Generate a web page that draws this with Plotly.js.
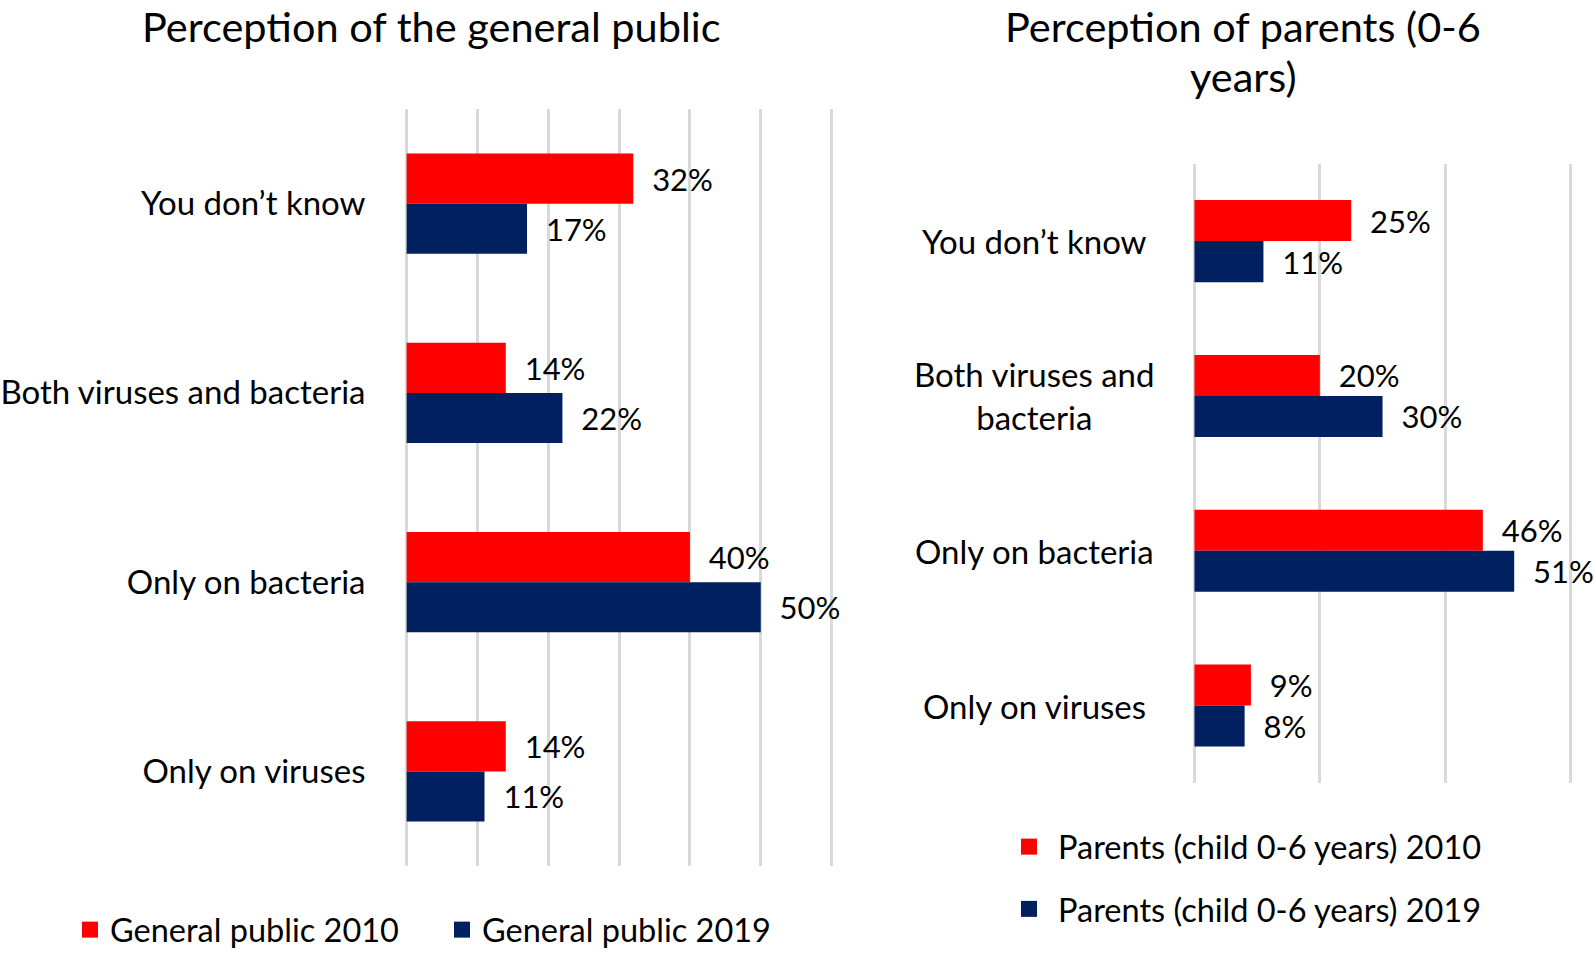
<!DOCTYPE html>
<html><head><meta charset="utf-8">
<script src="https://cdn.plot.ly/plotly-3.0.1.min.js"></script>
<style>html,body{margin:0;padding:0;background:#fff}</style>
</head><body><div id="chart" style="width:1594px;height:953px"></div>
<script>
const categories = ["You don’t know", "Both viruses and bacteria", "Only on bacteria", "Only on viruses"];
const parentCategoryLabels = ["You don’t know", "Both viruses and<br>bacteria", "Only on bacteria", "Only on viruses"];
const public2010 = [32, 14, 40, 14];
const public2019 = [17, 22, 50, 11];
const parents2010 = [25, 20, 46, 9];
const parents2019 = [11, 30, 51, 8];
const seriesNames = ["General public 2010", "General public 2019", "Parents (child 0-6 years) 2010", "Parents (child 0-6 years) 2019"];
const leftTitle = "Perception of the general public";
const rightTitleLines = ["Perception of parents (0-6", "years)"];

const RED = "#FF0000", NAVY = "#002060";
const FONT = "Lato, 'Noto Sans', sans-serif";
const CAT = 33, VAL = 31, LEG = 32.5, TTL = 41.5;

function bar(x, color, xa, ya) {
  return {
    type: "bar", orientation: "h", x: x, y: categories,
    xaxis: xa, yaxis: ya,
    marker: {color: color},
    texttemplate: "\u00a0\u00a0%{x}%", textposition: "outside",
    cliponaxis: false, constraintext: "none",
    textfont: {family: FONT, size: VAL, color: "#000"},
    showlegend: false, hoverinfo: "skip"
  };
}
function legendItem(name, color, lg, grp) {
  return {
    type: "scatter", mode: "markers", x: [null], y: [null], name: name,
    xaxis: lg === "legend" ? "x" : "x2", yaxis: lg === "legend" ? "y" : "y2",
    marker: {symbol: "square", size: 18, color: color},
    legend: lg, legendgroup: grp, hoverinfo: "skip"
  };
}

const data = [
  bar(public2010, RED, "x", "y"),
  bar(public2019, NAVY, "x", "y"),
  bar(parents2010, RED, "x2", "y2"),
  bar(parents2019, NAVY, "x2", "y2"),
  legendItem(seriesNames[0], RED, "legend", "a"),
  legendItem(seriesNames[1], NAVY, "legend", "b"),
  legendItem(seriesNames[2], RED, "legend2", "c"),
  legendItem(seriesNames[3], NAVY, "legend2", "d")
];

const grid = {showgrid: true, gridcolor: "#d9d9d9", gridwidth: 3, zeroline: false, showline: false, showticklabels: false, ticks: "", fixedrange: true};
const annotations = [
  {text: leftTitle, xref: "paper", yref: "paper", x: 431.5/1594, y: 1, xanchor: "center", yanchor: "top", borderpad: 0, showarrow: false, font: {family: FONT, size: TTL, color: "#000"}},
  {text: rightTitleLines[0], xref: "paper", yref: "paper", x: 1242.8/1594, y: 1, xanchor: "center", yanchor: "top", borderpad: 0, showarrow: false, font: {family: FONT, size: TTL, color: "#000"}},
  {text: rightTitleLines[1], xref: "paper", yref: "paper", x: 1242.8/1594, y: 1 - 76/953, xanchor: "center", yanchor: "middle", showarrow: false, font: {family: FONT, size: TTL, color: "#000"}}
];
categories.forEach((c, i) => annotations.push({
  text: parentCategoryLabels[i], xref: "paper", yref: "y2", x: 1034/1594, y: c,
  xanchor: "center", yanchor: "middle", align: "center", showarrow: false,
  font: {family: FONT, size: CAT, color: "#000"}
}));

const layout = {
  width: 1594, height: 953,
  margin: {l: 0, r: 0, t: 0, b: 0, autoexpand: false},
  paper_bgcolor: "#fff", plot_bgcolor: "#fff",
  font: {family: FONT, color: "#000"},
  barmode: "group", bargap: 0.47, bargroupgap: 0,
  xaxis: Object.assign({domain: [404.5/1594, 833.7/1594], range: [-0.3, 60.3], dtick: 10, tick0: 0, anchor: "y"}, grid),
  yaxis: {domain: [1 - 866/953, 1 - 109/953], anchor: "x", type: "category", categoryorder: "array", categoryarray: categories,
          autorange: "reversed", showgrid: false, zeroline: false, showline: false, ticks: "",
          ticklabelstandoff: 38, tickfont: {family: FONT, size: CAT, color: "#000"}, fixedrange: true},
  xaxis2: Object.assign({domain: [1192.6/1594, 1572.5/1594], range: [-0.3, 60.3], dtick: 20, tick0: 0, anchor: "y2"}, grid),
  yaxis2: {domain: [1 - 783/953, 1 - 163.7/953], anchor: "x2", type: "category", categoryorder: "array", categoryarray: categories,
           autorange: "reversed", showgrid: false, zeroline: false, showline: false, ticks: "", showticklabels: false, fixedrange: true},
  legend: {orientation: "h", x: 70/1594, xanchor: "left", y: 1 - 930/953, yanchor: "middle",
           font: {family: FONT, size: LEG, color: "#000"}, entrywidth: 327, entrywidthmode: "pixels",
           bgcolor: "rgba(0,0,0,0)", itemsizing: "trace", tracegroupgap: 0},
  legend2: {orientation: "v", x: 1000/1594, xanchor: "left", y: 1 - 878/953, yanchor: "middle", itemwidth: 48,
            font: {family: FONT, size: LEG, color: "#000"}, bgcolor: "rgba(0,0,0,0)", itemsizing: "trace", tracegroupgap: 17},
  annotations: annotations
};

Plotly.newPlot("chart", data, layout, {displayModeBar: false, staticPlot: true});
</script></body></html>
